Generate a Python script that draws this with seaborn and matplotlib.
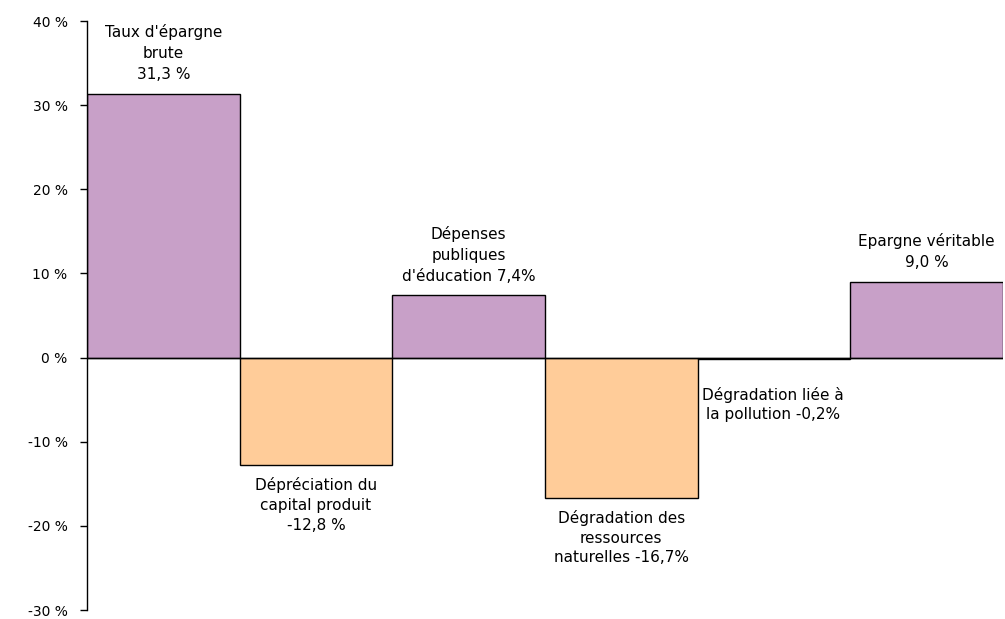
import matplotlib
matplotlib.use("Agg")
import matplotlib.pyplot as plt
import seaborn as sns
import pandas as pd

# composantes de l'épargne véritable (en % du revenu)
categories = ["Taux d'épargne brute", "Dépréciation du capital produit",
              "Dépenses publiques d'éducation", "Dégradation des ressources naturelles",
              "Dégradation liée à la pollution", "Epargne véritable"]
values = [31.3, -12.8, 7.4, -16.7, -0.2, 9.0]
labels = ["Taux d'épargne\nbrute\n31,3 %",
          "Dépréciation du\ncapital produit\n-12,8 %",
          "Dépenses\npubliques\nd'éducation 7,4%",
          "Dégradation des\nressources\nnaturelles -16,7%",
          "Dégradation liée à\nla pollution -0,2%",
          "Epargne véritable\n9,0 %"]
yticks = [-30, -20, -10, 0, 10, 20, 30, 40]

POS = "#C8A0C8"
NEG = "#FFCC99"

sns.set_theme(style="white")
plt.rcParams['font.family'] = ['DejaVu Sans']
plt.rcParams['text.color'] = 'black'
plt.rcParams['ytick.color'] = 'black'

df = pd.DataFrame({"cat": categories, "val": values})
colors = [POS if v >= 0 else NEG for v in values]

fig = plt.figure(figsize=(10.05, 6.19), dpi=100)
ax = fig.add_axes([0.0866, 0.0145, 0.9114, 0.9515])

sns.barplot(data=df, x="cat", y="val", hue="cat", palette=colors, legend=False,
            width=1.0, edgecolor="black", linewidth=1.0, saturation=1, ax=ax)

ax.axhline(0, color="black", linewidth=1.0, zorder=3)

ax.set_xlim(-0.5, len(values) - 0.5)
ax.set_ylim(-30, 40)
ax.set_yticks(yticks)
ax.set_yticklabels([f"{t} %" for t in yticks], fontsize=10)
ax.set_xticks([])
ax.set_xlabel("")
ax.set_ylabel("")
ax.tick_params(axis="y", direction="out", length=5, width=1, color="black", pad=9, left=True)

for s in ["top", "right", "bottom"]:
    ax.spines[s].set_visible(False)
ax.spines["left"].set_color("black")
ax.spines["left"].set_linewidth(1.0)

# étiquettes des barres
for i, (v, lab) in enumerate(zip(values, labels)):
    if i == 4:
        ax.text(i - 0.47, v - 3.3, lab, ha="left", va="top", multialignment="center",
                fontsize=11, linespacing=1.35)
    elif v >= 0:
        ax.text(i, v + 1.4, lab, ha="center", va="bottom", multialignment="center",
                fontsize=11, linespacing=1.5)
    else:
        ax.text(i, v - 1.4, lab, ha="center", va="top", multialignment="center",
                fontsize=11, linespacing=1.4)

plt.savefig("out.png", dpi=100)
